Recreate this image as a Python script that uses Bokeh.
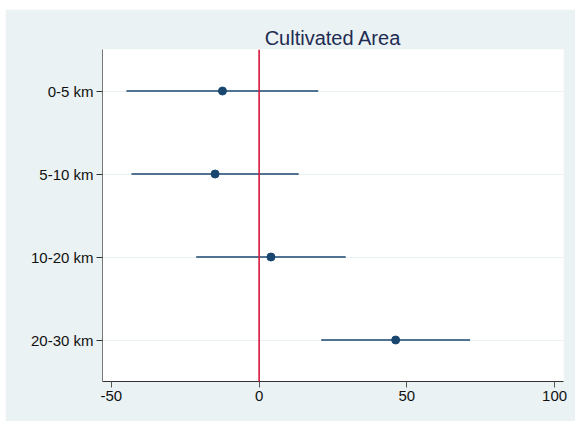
from bokeh.plotting import figure
from bokeh.models import Range1d, FixedTicker, ColumnDataSource, Span
from bokeh.embed import file_html
from bokeh.resources import INLINE

# Data
categories = ["0-5 km", "5-10 km", "10-20 km", "20-30 km"]
estimates = [-12.4, -14.9, 4.0, 46.2]
ci_lower = [-44.9, -43.2, -21.3, 21.0]
ci_upper = [20.0, 13.4, 29.3, 71.4]
x_ticks = [-50, 0, 50, 100]
x_tick_labels = ["-50", "0", "50", "100"]
title_text = "Cultivated Area"

positions = list(range(1, len(categories) + 1))
src = ColumnDataSource(dict(y=positions, est=estimates, lo=ci_lower, hi=ci_upper))

BG = "#EAF2F3"
NAVY = "#1a476f"

p = figure(width=570, height=412, output_backend="svg", toolbar_location=None,
           x_range=Range1d(-53, 103), y_range=Range1d(4.5, 0.5),
           border_fill_color=BG, background_fill_color="white",
           min_border_left=97, min_border_right=12, min_border_top=40,
           min_border_bottom=40, outline_line_color=None)
p.margin = (9, 0, 3, 5)

p.title.text = title_text
p.title.align = "center"
p.title.text_font = "Liberation Sans"
p.title.text_font_size = "20px"
p.title.text_font_style = "normal"
p.title.text_color = "#1e2b52"
p.title.standoff = 2

# grid
p.xgrid.grid_line_color = None
p.ygrid.grid_line_color = BG
p.ygrid.grid_line_width = 1
p.yaxis.ticker = FixedTicker(ticks=positions)
p.xaxis.ticker = FixedTicker(ticks=x_ticks)
p.yaxis.major_label_overrides = {pos: lab for pos, lab in zip(positions, categories)}
p.xaxis.major_label_overrides = {t: lab for t, lab in zip(x_ticks, x_tick_labels)}

for ax in (p.xaxis[0], p.yaxis[0]):
    ax.major_label_text_font = "Liberation Sans"
    ax.major_label_text_font_size = "15px"
    ax.major_label_text_color = "#111111"
    ax.major_tick_in = 0
    ax.major_tick_out = 6
    ax.minor_tick_line_color = None
    ax.axis_line_width = 1
    ax.major_tick_line_width = 1
p.yaxis.axis_line_color = "#777777"
p.yaxis.major_tick_line_color = "#333333"
p.xaxis.axis_line_color = "#333333"
p.xaxis.major_tick_line_color = "#555555"
p.yaxis.major_label_standoff = 3
p.xaxis.major_label_standoff = 3

# zero reference line
p.add_layout(Span(location=0, dimension="height", line_color="#d4173d", line_width=1.6))

# confidence intervals and points
p.segment(x0="lo", x1="hi", y0="y", y1="y", source=src, line_color=NAVY, line_width=1.5)
p.scatter(x="est", y="y", source=src, size=8, fill_color=NAVY, line_color=NAVY)

open("out.html", "w").write(file_html(p, INLINE))
